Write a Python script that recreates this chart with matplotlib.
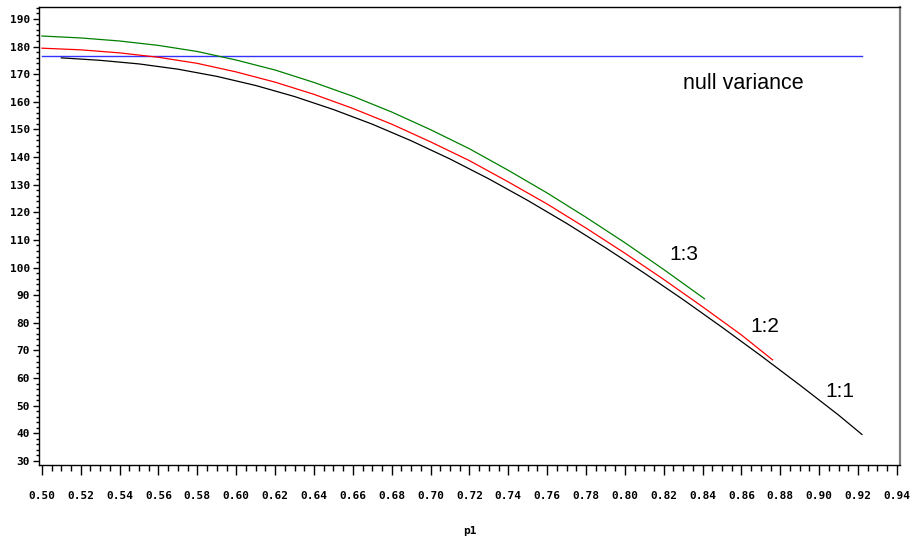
# Import libraries for plotting
import matplotlib
matplotlib.use("Agg")
import matplotlib.pyplot as plt
from matplotlib.ticker import MultipleLocator, FormatStrFormatter

# Values for each allocation ratio
p1_ratio11 = [0.51, 0.53, 0.55, 0.57, 0.59, 0.61, 0.63, 0.65, 0.67, 0.69, 0.71,
              0.73, 0.75, 0.77, 0.79, 0.81, 0.83, 0.85, 0.87, 0.89, 0.91, 0.922]
var_ratio11 = [175.9, 175.0, 173.7, 171.8, 169.2, 165.9, 161.9, 157.2, 151.9, 145.9, 139.3,
               132.1, 124.3, 116.0, 107.2, 98.0, 88.4, 78.4, 68.1, 57.5, 46.6, 39.6]

p1_ratio12 = [0.50, 0.52, 0.54, 0.56, 0.58, 0.60, 0.62, 0.64, 0.66, 0.68, 0.70,
              0.72, 0.74, 0.76, 0.78, 0.80, 0.82, 0.84, 0.86, 0.876]
var_ratio12 = [179.4, 178.8, 177.7, 176.1, 173.9, 170.8, 167.1, 162.7, 157.6, 151.9, 145.5,
               138.7, 131.0, 123.0, 114.3, 105.2, 95.7, 85.8, 75.6, 66.6]

p1_ratio13 = [0.50, 0.52, 0.54, 0.56, 0.58, 0.60, 0.62, 0.64, 0.66, 0.68, 0.70,
              0.72, 0.74, 0.76, 0.78, 0.80, 0.82, 0.84, 0.841]
var_ratio13 = [183.8, 183.1, 182.0, 180.4, 178.2, 175.1, 171.5, 167.0, 162.0, 156.3, 149.9,
               143.0, 135.2, 127.0, 118.2, 109.0, 99.3, 89.2, 88.7]

# Null variance is a flat line across the same range
p1_null = [0.50, 0.922]
var_null = [176.4, 176.4]

# Figure size matches 913x539 pixels
fig = plt.figure(figsize=(9.13, 5.39), dpi=100)
ax = fig.add_axes([0.0427, 0.1373, 0.9431, 0.8497])

# Plot each curve
ax.plot(p1_null, var_null, color="#3333ff", linewidth=1.0)
ax.plot(p1_ratio11, var_ratio11, color="#000000", linewidth=0.9)
ax.plot(p1_ratio12, var_ratio12, color="#ff0000", linewidth=0.9)
ax.plot(p1_ratio13, var_ratio13, color="#008000", linewidth=0.9)

# Text labels beside the curves
ax.text(0.830, 166.6, "null variance", va="center", ha="left",
        family="Liberation Sans", size=15.5, color="#000000")
for xp, yp, s in [(0.823, 104.6, "1:3"), (0.8644, 78.5, "1:2"), (0.903, 55.0, "1:1")]:
    ax.text(xp, yp, s, va="center", ha="left", family="Liberation Sans", size=15, color="#000000")

# Axis ranges and ticks
ax.set_xlim(0.4985, 0.9416)
ax.set_ylim(28.55, 194.3)
ax.xaxis.set_major_locator(MultipleLocator(0.02))
ax.xaxis.set_minor_locator(MultipleLocator(0.005))
ax.xaxis.set_major_formatter(FormatStrFormatter("%.2f"))
ax.yaxis.set_major_locator(MultipleLocator(10))
ax.yaxis.set_minor_locator(MultipleLocator(2))

tickFont = "DejaVu Sans Mono"
ax.tick_params(axis="x", which="major", direction="out", length=7, width=1, pad=12)
ax.tick_params(axis="x", which="minor", direction="out", length=4.5, width=1)
ax.tick_params(axis="y", which="major", direction="out", length=4.5, width=1, pad=2)
ax.tick_params(axis="y", which="minor", direction="out", length=2.5, width=1)
for lab in ax.get_xticklabels() + ax.get_yticklabels():
    lab.set_fontfamily(tickFont)
    lab.set_fontsize(8)
    lab.set_fontweight("bold")

ax.set_xlabel("p1", fontfamily=tickFont, fontsize=8, fontweight="bold", labelpad=18)

# Frame lines
for side in ["left", "bottom", "top"]:
    ax.spines[side].set_color("#000000")
    ax.spines[side].set_linewidth(1.0)
ax.spines["right"].set_color("#808080")
ax.spines["right"].set_linewidth(1.6)

fig.savefig("out.png", dpi=100)
